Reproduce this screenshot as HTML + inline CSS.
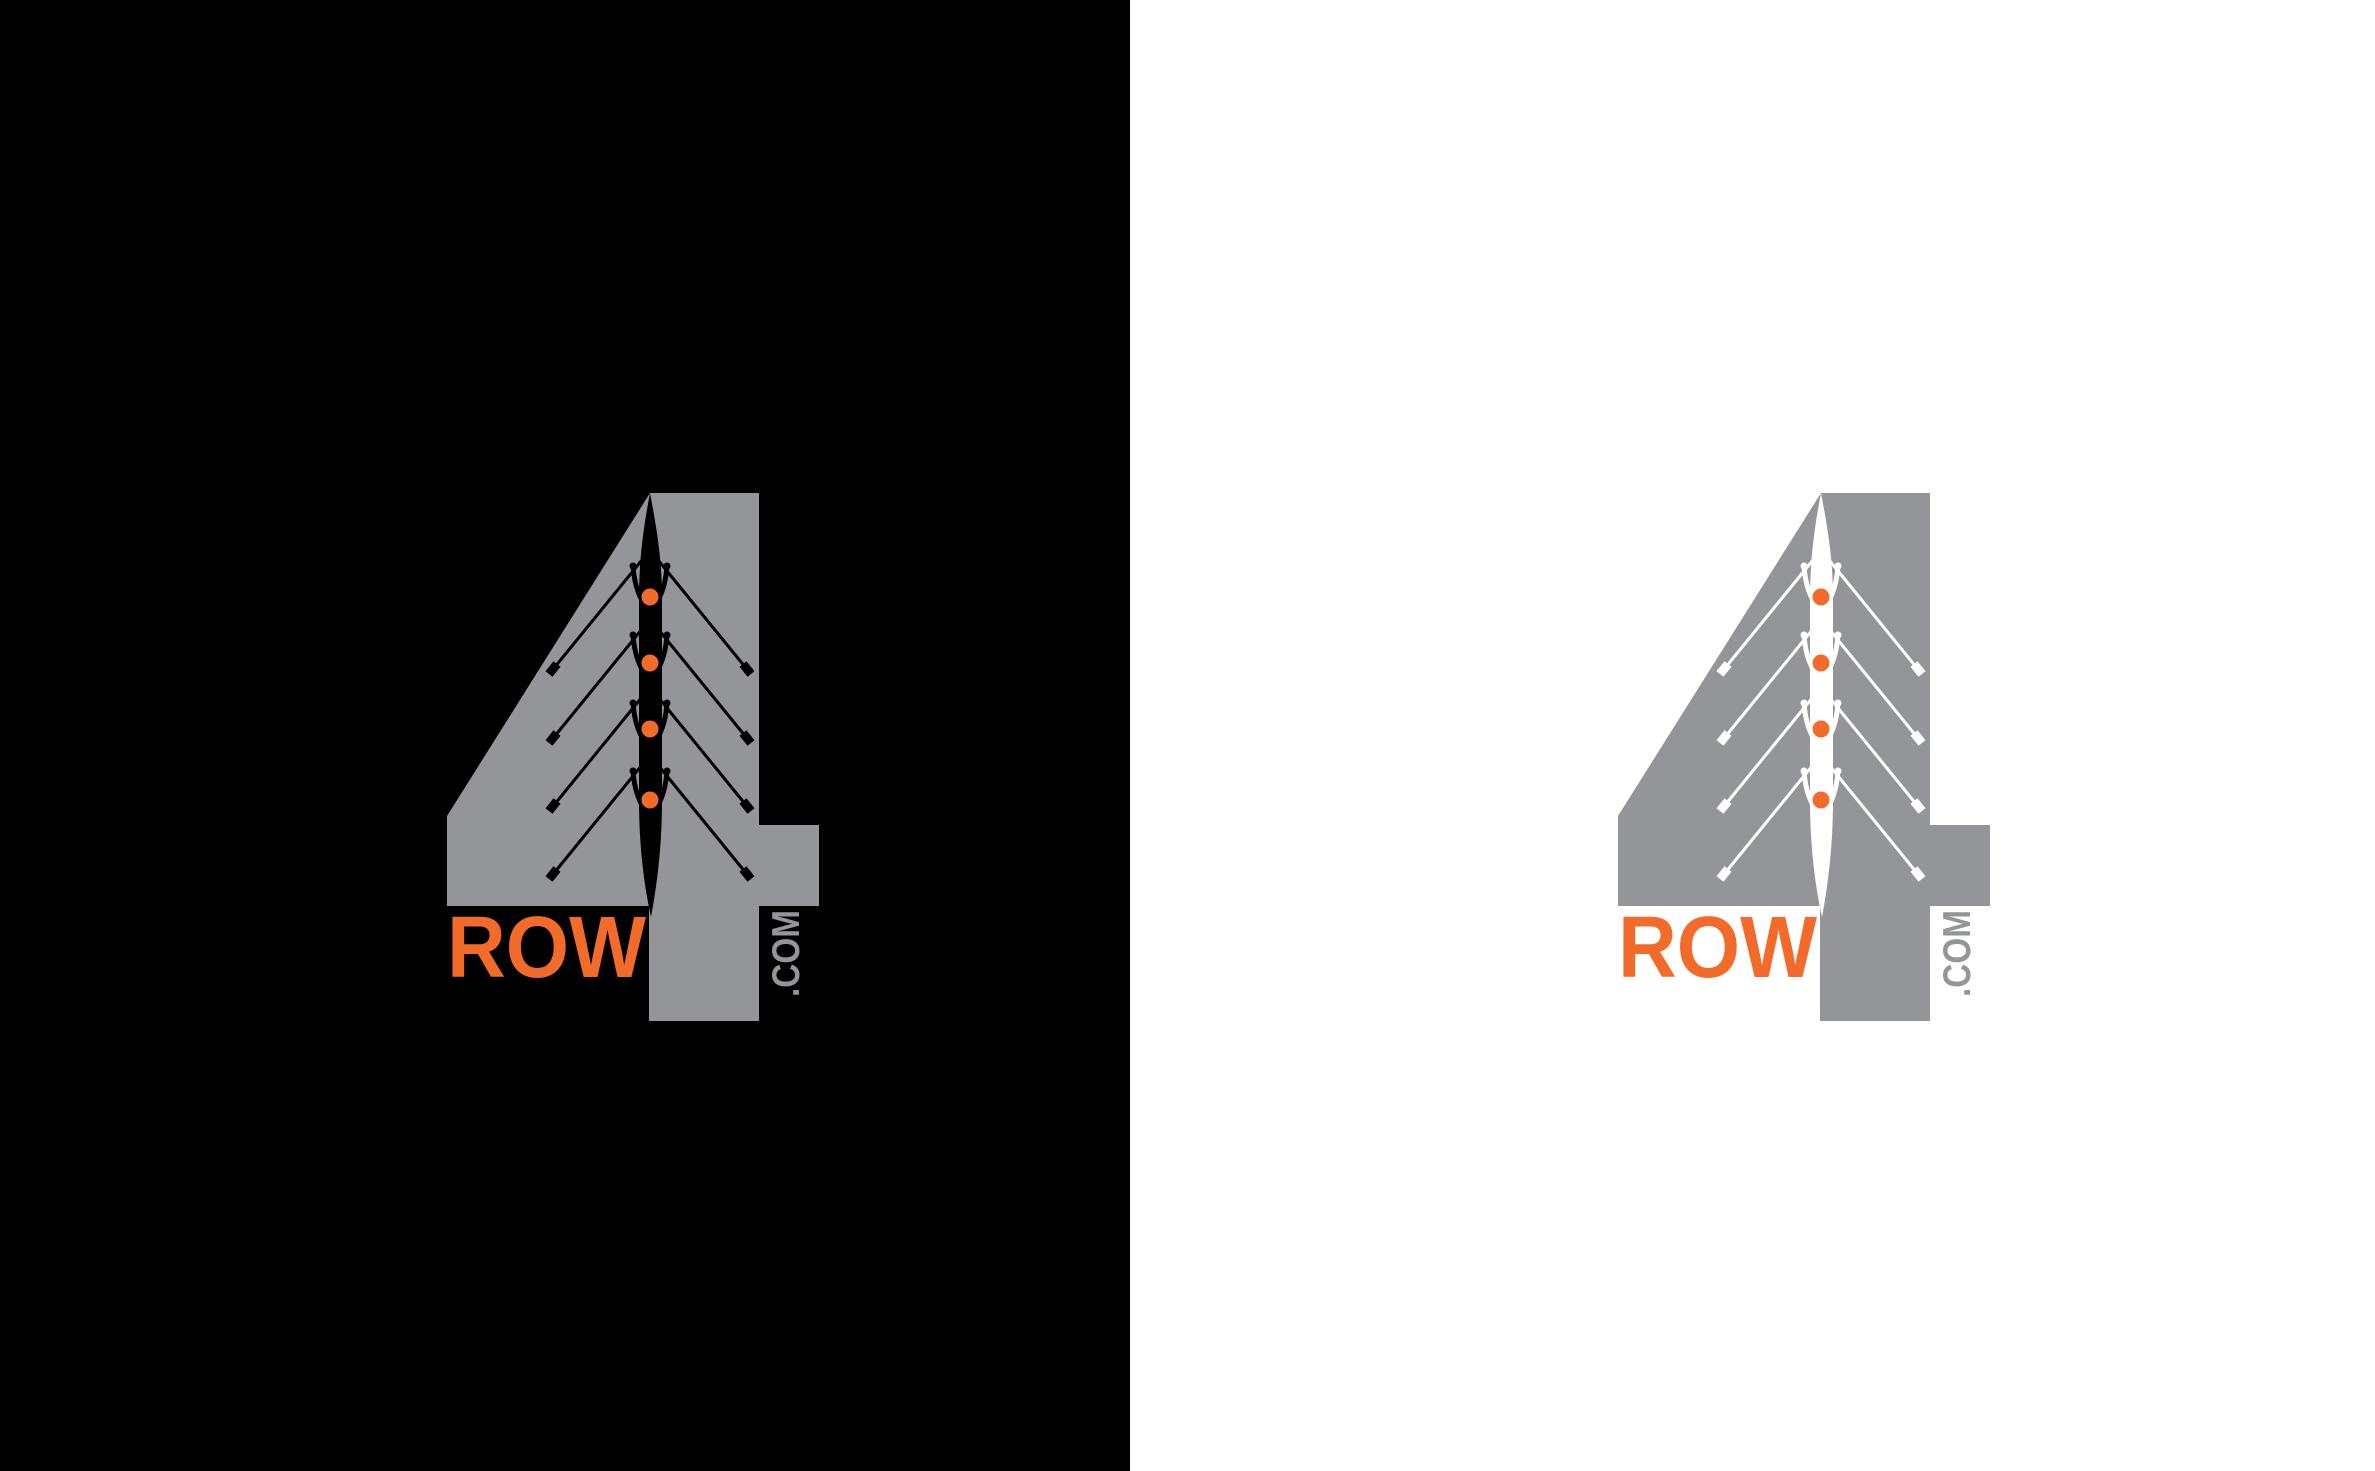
<!DOCTYPE html>
<html><head><meta charset="utf-8"><style>
html,body{margin:0;padding:0;width:2375px;height:1471px;overflow:hidden;background:#fff}
svg{display:block}
</style></head><body>
<svg width="2375" height="1471" viewBox="0 0 2375 1471" xmlns="http://www.w3.org/2000/svg">
<defs>
<g id="rower">
  <line x1="642" y1="560" x2="550" y2="673" stroke-width="3"/>
  <line x1="658" y1="560" x2="750" y2="673" stroke-width="3"/>
  <line x1="557" y1="664" x2="549" y2="674" stroke-width="9"/>
  <line x1="743" y1="664" x2="751" y2="674" stroke-width="9"/>
  <path d="M633,566 C634,580 637,592 643,602" fill="none" stroke-width="5"/>
  <path d="M667,566 C666,580 663,592 657,602" fill="none" stroke-width="5"/>
  <circle cx="633" cy="566" r="3.5" stroke="none"/>
  <circle cx="667" cy="566" r="3.5" stroke="none"/>
</g>
</defs>
<rect x="0" y="0" width="1130" height="1471" fill="#000"/>

<g>
  <polygon points="650,493 759,493 759,825 819,825 819,906 759,906 759,1021 649,1021 649,906 447,906 447,816" fill="#939598"/>
  <path d="M650,493 C643,530 639,560 639,600 L639,800 C639,850 645,890 651,917 C656,890 662,850 662,800 L662,600 C662,560 657,530 650,493 Z" fill="#000"/>
  <g fill="#000" stroke="#000">
    <use href="#rower"/>
    <use href="#rower" transform="translate(0,69)"/>
    <use href="#rower" transform="translate(0,137)"/>
    <use href="#rower" transform="translate(0,205)"/>
  </g>
  <g fill="#f26b2a">
    <circle cx="650" cy="597" r="8.5"/>
    <circle cx="650" cy="663" r="8.5"/>
    <circle cx="650" cy="729" r="8.5"/>
    <circle cx="650" cy="800" r="8.5"/>
  </g>
  <text x="447" y="977" font-family="Liberation Sans, sans-serif" font-weight="bold" font-size="87" fill="#f26b2a" textLength="199" lengthAdjust="spacingAndGlyphs">ROW</text>
  <text transform="translate(771,997) rotate(-90)" x="0" y="0" dy="28" font-family="Liberation Sans, sans-serif" font-weight="bold" font-size="39" fill="#939598" textLength="87" lengthAdjust="spacingAndGlyphs">.COM</text>
</g>

<g transform="translate(1171,0)">
  <polygon points="650,493 759,493 759,825 819,825 819,906 759,906 759,1021 649,1021 649,906 447,906 447,816" fill="#939598"/>
  <path d="M650,493 C643,530 639,560 639,600 L639,800 C639,850 645,890 651,917 C656,890 662,850 662,800 L662,600 C662,560 657,530 650,493 Z" fill="#fff"/>
  <g fill="#fff" stroke="#fff">
    <use href="#rower"/>
    <use href="#rower" transform="translate(0,69)"/>
    <use href="#rower" transform="translate(0,137)"/>
    <use href="#rower" transform="translate(0,205)"/>
  </g>
  <g fill="#f26b2a">
    <circle cx="650" cy="597" r="8.5"/>
    <circle cx="650" cy="663" r="8.5"/>
    <circle cx="650" cy="729" r="8.5"/>
    <circle cx="650" cy="800" r="8.5"/>
  </g>
  <text x="447" y="977" font-family="Liberation Sans, sans-serif" font-weight="bold" font-size="87" fill="#f26b2a" textLength="199" lengthAdjust="spacingAndGlyphs">ROW</text>
  <text transform="translate(771,997) rotate(-90)" x="0" y="0" dy="28" font-family="Liberation Sans, sans-serif" font-weight="bold" font-size="39" fill="#939598" textLength="87" lengthAdjust="spacingAndGlyphs">.COM</text>
</g>
</svg>
</body></html>
